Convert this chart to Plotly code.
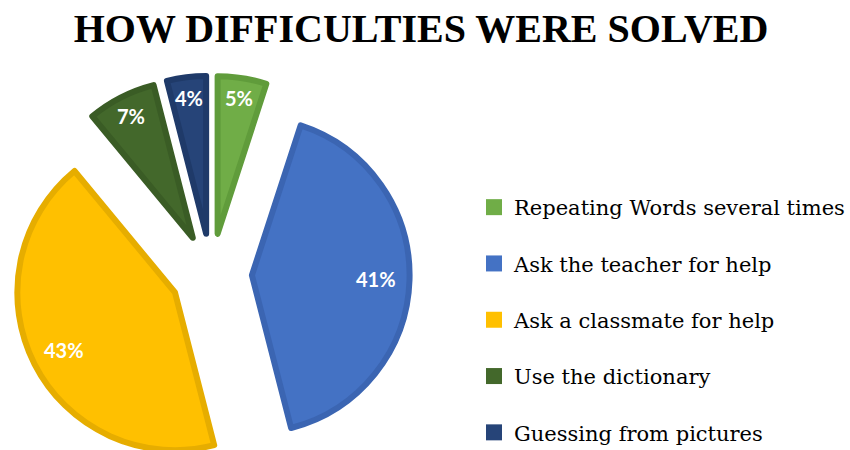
import math
import plotly.graph_objects as go

# Survey answers, in slice order (clockwise from 12 o'clock)
strategies = [
    "Repeating Words several times",
    "Ask the teacher for help",
    "Ask a classmate for help",
    "Use the dictionary",
    "Guessing from pictures",
]
shares = [5, 41, 43, 7, 4]

fill_colors = ["#70AD47", "#4472C4", "#FFC000", "#43682B", "#264478"]
edge_colors = ["#609C3B", "#3B65B2", "#E6AD00", "#3A5C25", "#1F3A69"]

title_text = "HOW DIFFICULTIES WERE SOLVED"

W, H = 850, 480
cx, cy, half = 213, 274, 200   # pie centre (px from top-left) and half extent
pull = 0.258
radius = half / (1 + pull)

fig = go.Figure()

fig.add_trace(go.Pie(
    labels=strategies,
    values=shares,
    sort=False,
    direction="clockwise",
    rotation=0,
    pull=[pull] * len(shares),
    marker=dict(colors=fill_colors, line=dict(color=edge_colors, width=6)),
    textinfo="none",
    showlegend=False,
    domain=dict(
        x=[(cx - half) / W, (cx + half) / W],
        y=[(H - cy - half) / H, (H - cy + half) / H],
    ),
    hoverinfo="label+percent",
))

# Percentage labels placed along each slice's bisector
total = sum(shares)
cum = 0
for share in shares:
    mid = 2 * math.pi * (cum + share / 2) / total
    cum += share
    k = 0.86 if share < 10 else 0.79
    dist = radius * (pull + k)
    px = cx + dist * math.sin(mid)
    py = cy - dist * math.cos(mid)
    fig.add_annotation(
        x=px / W, y=1 - py / H, xref="paper", yref="paper",
        text=f"{round(100 * share / total)}%",
        showarrow=False,
        xanchor="center", yanchor="middle",
        font=dict(family="Lato", size=20, color="white", weight="bold"),
    )

# Legend entries: one square swatch per strategy
for i, (name, col) in enumerate(zip(strategies, fill_colors)):
    fig.add_trace(go.Scatter(
        x=[None], y=[None],
        mode="markers",
        name=name,
        legendgroup=f"g{i}",
        marker=dict(symbol="square", size=16, color=col),
        showlegend=True,
    ))

fig.update_layout(
    width=W,
    height=H,
    margin=dict(l=0, r=0, t=0, b=0),
    paper_bgcolor="white",
    plot_bgcolor="white",
    title=dict(
        text=title_text,
        x=421 / W,
        xanchor="center",
        y=1 - 28 / H,
        yanchor="middle",
        font=dict(family="Liberation Serif", size=40, color="black", weight="bold"),
    ),
    xaxis=dict(visible=False),
    yaxis=dict(visible=False),
    legend=dict(
        x=478 / W,
        xanchor="left",
        y=1 - 187 / H,
        yanchor="top",
        font=dict(family="DejaVu Serif", size=21, color="black"),
        tracegroupgap=26,
        itemsizing="trace",
        bgcolor="rgba(0,0,0,0)",
    ),
)

fig.write_html(
    "out.html",
    post_script="document.documentElement.style.overflow='hidden';document.body.style.overflow='hidden';",
)
